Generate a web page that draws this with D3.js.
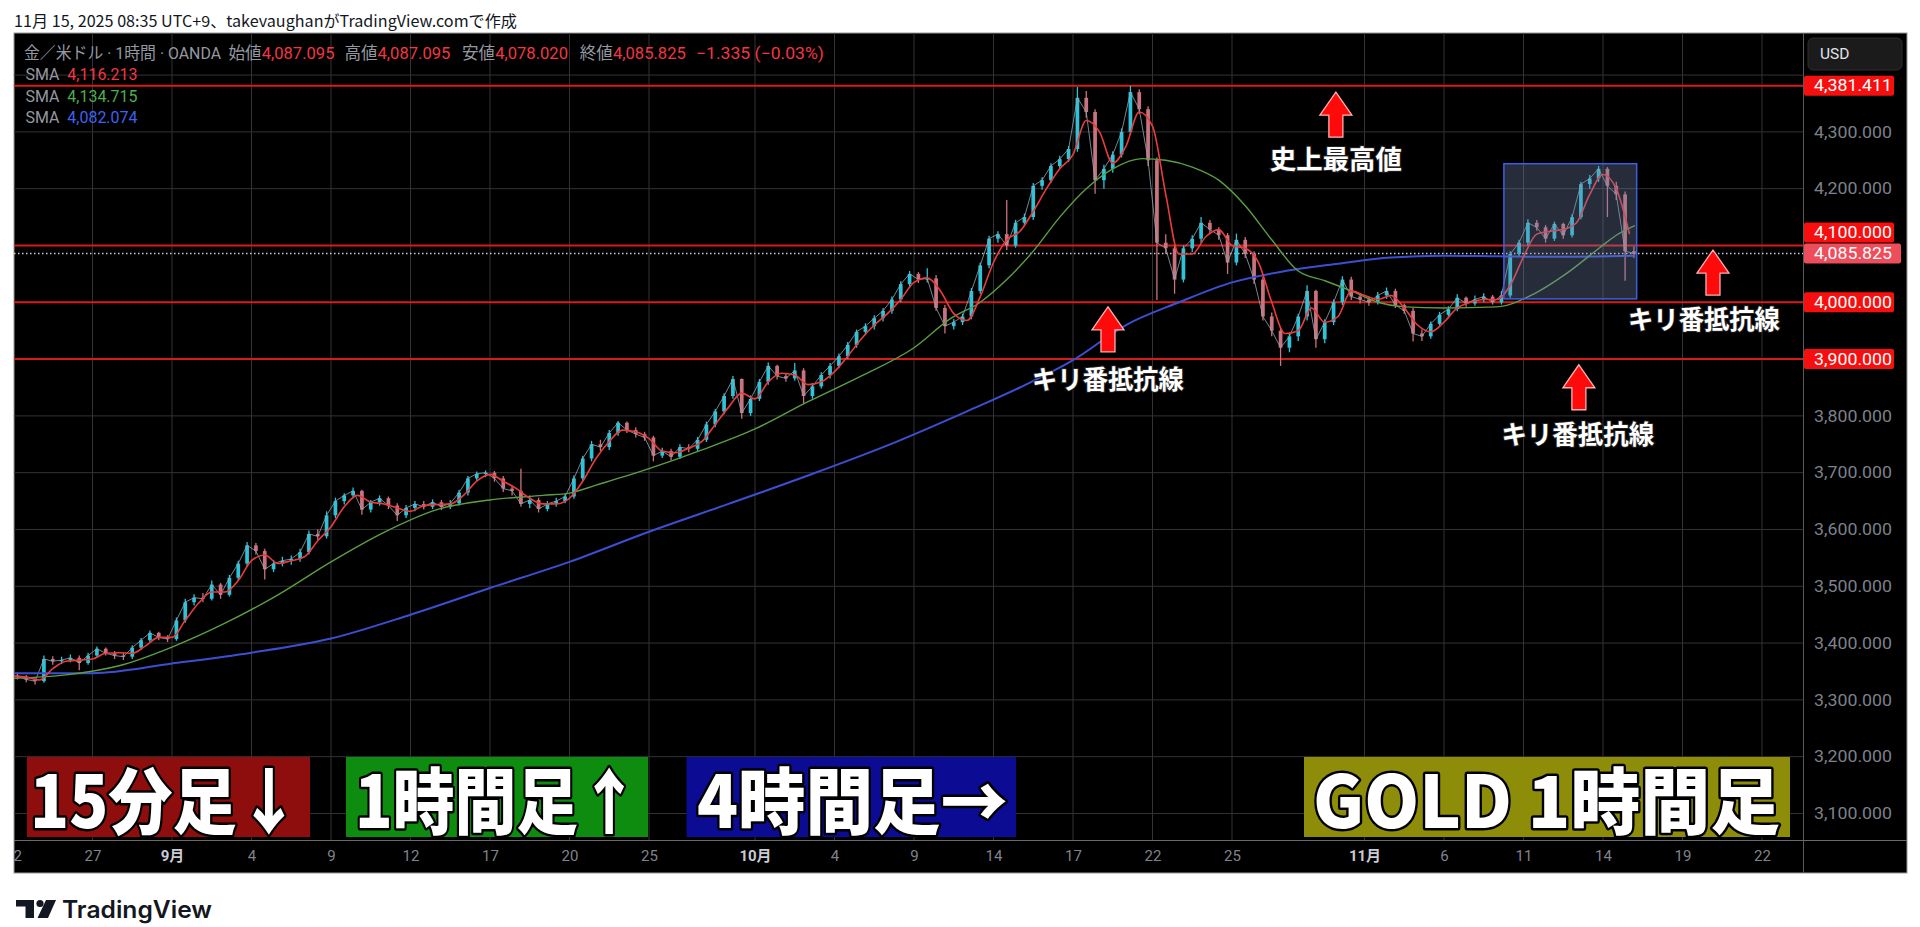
<!DOCTYPE html>
<html><head><meta charset="utf-8">
<script src="https://cdn.jsdelivr.net/npm/d3@7"></script>
<style>
body{margin:0;background:#fff;}
svg{display:block;}
</style>
</head><body>
<svg id="c" width="1920" height="927"></svg>
<script>
// ---------------- DATA ----------------
// 1/3 trading-day candles (day 0 = Aug 22)
const firstOpen = 3343;
const closes = [
3341,3336,3333, 3372,3368,3370, 3374,3365,3378, 3390,3382,3378, 3376,3392,3405,
3418,3410,3407, 3440,3472,3480, 3478,3503,3485, 3515,3540,3572, 3562,3530,3540,
3545,3548,3560, 3592,3588,3625, 3650,3660,3668, 3635,3648,3655, 3642,3625,3638,
3645,3640,3648, 3640,3646,3665, 3690,3698,3700, 3690,3672,3668, 3645,3652,3636,
3645,3650,3658, 3690,3725,3750, 3745,3770,3788, 3775,3768,3762, 3730,3738,3728,
3745,3742,3758, 3785,3808,3835, 3865,3805,3830, 3860,3888,3870, 3866,3880,3835,
3852,3872,3888, 3905,3925,3948, 3958,3972,3985, 4005,4032,4050, 4040,4042,3990,
3958,3965,3975, 4020,4065,4112, 4120,4100,4140, 4150,4205,4215, 4240,4252,4270,
4360,4335,4215, 4235,4260,4300, 4370,4340,4250, 4105,4095,4040, 4095,4112,4140,
4128,4118,4070, 4110,4085,4040, 3975,3950,3920, 3940,3975,4020, 3935,3965,4000,
4040,4010,4005, 4000,4012,4020, 3995,3985,3945, 3940,3962,3978, 3988,4008,3998,
4005,4010,4000, 4012,4085,4105, 4140,4132,4112, 4138,4118,4150, 4208,4218,4235,
4205,4190,4090, 4085.825];
const highs = [
3348,3344,3338, 3378,3377,3376, 3380,3378,3383, 3394,3392,3386, 3383,3396,3409,
3422,3420,3414, 3445,3478,3486, 3488,3510,3506, 3520,3545,3578, 3576,3566,3546,
3552,3554,3566, 3598,3600,3632, 3656,3664,3674, 3670,3652,3660, 3658,3646,3643,
3650,3650,3653, 3652,3652,3670, 3694,3702,3704, 3703,3694,3677, 3707,3660,3656,
3650,3656,3663, 3695,3730,3756, 3758,3775,3791, 3790,3780,3772, 3765,3744,3742,
3750,3750,3763, 3790,3812,3840, 3870,3866,3836, 3865,3894,3890, 3876,3893,3884,
3858,3877,3893, 3910,3930,3952, 3963,3977,3990, 4010,4037,4055, 4053,4060,4048,
3995,3970,3980, 4025,4070,4117, 4125,4180,4145, 4156,4210,4220, 4245,4258,4275,
4379,4372,4340, 4242,4266,4306, 4381,4375,4345, 4255,4120,4100, 4100,4118,4150,
4145,4132,4122, 4121,4115,4090, 4045,3982,3955, 3946,3980,4030, 4022,3970,4005,
4046,4045,4016, 4010,4018,4026, 4024,3998,3990, 3952,3966,3983, 3993,4014,4010,
4012,4016,4013, 4020,4090,4110, 4146,4145,4136, 4142,4140,4155, 4212,4224,4240,
4238,4212,4195, 4098];
const lows = [
3336,3331,3327, 3330,3362,3363, 3366,3352,3362, 3374,3378,3372, 3370,3372,3388,
3401,3405,3402, 3404,3436,3466, 3472,3475,3478, 3482,3510,3535, 3556,3512,3525,
3535,3538,3543, 3556,3582,3584, 3620,3644,3655, 3626,3630,3642, 3636,3615,3620,
3632,3635,3636, 3634,3636,3642, 3660,3686,3692, 3684,3666,3660, 3640,3638,3630,
3632,3640,3646, 3654,3685,3720, 3738,3740,3765, 3770,3762,3756, 3720,3726,3722,
3724,3736,3738, 3754,3780,3803, 3830,3795,3800, 3826,3855,3864, 3860,3862,3822,
3830,3848,3866, 3884,3900,3920, 3942,3952,3966, 3980,4000,4026, 4034,4035,3985,
3945,3952,3960, 3970,4015,4060, 4105,4092,4096, 4134,4145,4198, 4210,4235,4247,
4265,4325,4191, 4200,4228,4255, 4295,4332,4240, 4004,4085,4015, 4035,4088,4105,
4120,4110,4050, 4065,4078,4032, 3968,3940,3888, 3912,3932,3968, 3920,3928,3960,
3995,4004,3998, 3994,3996,4006, 3990,3980,3931, 3932,3936,3958, 3972,3984,3992,
3994,4000,3996, 3996,4008,4080, 4100,4126,4105, 4108,4112,4114, 4146,4200,4212,
4150,4180,4038, 4078];

// short SMA (red), one value every half trading day from day 0
const redSma = [
3342,3340,3335,3355,3368,3370,3372,3382,3383,3382,
3395,3410,3410,3440,3470,3490,3490,3510,3545,3555,
3540,3545,3552,3580,3605,3640,3660,3648,3645,3638,
3632,3642,3644,3645,3660,3685,3697,3685,3672,3655,
3645,3645,3655,3685,3725,3755,3775,3772,3760,3738,
3735,3743,3755,3785,3815,3840,3830,3860,3875,3872,
3855,3860,3878,3905,3935,3960,3980,4005,4035,4043,
4020,3980,3968,4010,4070,4110,4125,4160,4200,4235,
4260,4320,4300,4245,4275,4335,4310,4190,4085,4085,
4115,4128,4100,4095,4070,4000,3945,3950,3990,3965,
3975,4020,4012,4005,4012,3990,3960,3948,3965,3990,
4000,4005,4005,4030,4080,4120,4125,4128,4140,4190,
4225,4200,4120];
// medium SMA (green) [day, value]
const greenSma = [[0,3338],[2,3344],[4,3360],[6,3393],[8,3435],[10,3485],[12,3543],[14,3595],
[16,3635],[18,3652],[20,3660],[21,3664],[22,3678],[24,3707],[26,3740],[28,3777],[30,3825],
[32,3870],[34,3920],[35.4,3972],[36.5,4000],[37.5,4040],[38.5,4090],[39.5,4150],[40.5,4200],
[41.5,4235],[42.6,4253],[43.5,4250],[44.5,4238],[45.5,4215],[46.5,4170],[47.5,4110],
[48.5,4055],[49.5,4038],[50.5,4020],[51.5,4000],[52.5,3992],[54,3990],[56,3992],[57.4,4015],
[58.6,4050],[59.9,4097],[60.5,4118],[61.2,4135]];
// long SMA (blue) [day, value]
const blueSma = [[0,3347],[3,3347],[6,3364],[9,3383],[12,3408],[15,3450],[18,3497],[21,3543],
[24,3596],[27,3645],[30,3695],[33,3748],[36,3808],[38,3850],[40,3898],[42,3960],[44,4000],
[46,4035],[48,4055],[50,4068],[52,4079],[54,4082],[56,4081],[58,4080],[61.2,4082]];

const tickDays   = [0,3,6,9,12,15,18,21,24,28,31,34,37,40,43,46,51,54,57,60,63,66];
const tickLabels = ["22","27","9月","4","9","12","17","20","25","10月","4","9","14","17","22","25","11月","6","11","14","19","22"];
const priceGrid  = [3100,3200,3300,3400,3500,3600,3700,3800,3900,4000,4100,4200,4300,4400];
const priceLabels= [3100,3200,3300,3400,3500,3600,3700,3800,4200,4300];
const levels     = [4381.411, 4100, 4000, 3900];
const lastPrice  = 4085.825;
const ohlcNames  = ["始値","高値","安値","終値"];
const ohlcValues = [4087.095, 4087.095, 4078.020, 4085.825];
const changeText = "−1.335 (−0.03%)";
const smaValues  = [4116.213, 4134.715, 4082.074];
const boxDays    = [56.26, 61.27];
const boxPrices  = [4244, 4006];

// ---------------- DRAW ----------------
const svg = d3.select("#c");
const fmt = d3.format(",.3f");
const xS = d3.scaleLinear().domain([0, 67.5]).range([13, 1801.75]);
const yS = d3.scaleLinear().domain([3053.3, 4474.1]).range([840, 33]);
const PL = 14, PR = 1803, PT = 33, PB = 840;
const LAT = "Roboto, 'Noto Sans CJK JP', sans-serif";
const JP = "'Noto Sans CJK JP', sans-serif";

// header
svg.append("text").attr("x",14).attr("y",20).attr("dominant-baseline","central")
  .attr("font-family",JP).attr("font-size",15.5).attr("fill","#131722")
  .attr("textLength",503).attr("lengthAdjust","spacingAndGlyphs")
  .text("11月 15, 2025 08:35 UTC+9、takevaughanがTradingView.comで作成");

// frame
svg.append("rect").attr("x",14).attr("y",33).attr("width",1893).attr("height",840)
  .attr("fill","#000").attr("stroke","#9a9a9a").attr("stroke-width",1);

const defs = svg.append("defs");
defs.append("clipPath").attr("id","plot").append("rect")
  .attr("x",PL).attr("y",PT).attr("width",PR-PL).attr("height",PB-PT);
defs.append("clipPath").attr("id","taxis").append("rect")
  .attr("x",PL).attr("y",PB).attr("width",PR-PL).attr("height",33);

const plot = svg.append("g").attr("clip-path","url(#plot)");

// grid
plot.selectAll(".vg").data(tickDays).join("line")
  .attr("x1",d=>xS(d)).attr("x2",d=>xS(d)).attr("y1",PT).attr("y2",PB)
  .attr("stroke","#333").attr("stroke-width",1);
plot.selectAll(".hg").data(priceGrid).join("line")
  .attr("x1",PL).attr("x2",PR).attr("y1",d=>yS(d)).attr("y2",d=>yS(d))
  .attr("stroke","#333").attr("stroke-width",1);

// level lines
plot.selectAll(".lv").data(levels).join("line")
  .attr("x1",PL).attr("x2",PR).attr("y1",d=>yS(d)).attr("y2",d=>yS(d))
  .attr("stroke","#d81a1a").attr("stroke-width",2);
// last price dotted
plot.append("line").attr("x1",PL).attr("x2",PR).attr("y1",yS(lastPrice)).attr("y2",yS(lastPrice))
  .attr("stroke","#cfcfcf").attr("stroke-width",1.5).attr("stroke-dasharray","1.5,2.5");

// candles
const candles = closes.map((c,i)=>({t:(i+0.5)/3, o: i ? closes[i-1] : firstOpen, c, h: highs[i], l: lows[i]}));
const UP = "#2ec3d8", DN = "#c8737f";
const bw = (xS(1/3)-xS(0))*0.42;
plot.selectAll(".wk").data(candles).join("line")
  .attr("x1",d=>xS(d.t)).attr("x2",d=>xS(d.t)).attr("y1",d=>yS(d.h)).attr("y2",d=>yS(d.l))
  .attr("stroke",d=>d.c>=d.o?UP:DN).attr("stroke-width",1.3);
plot.selectAll(".bd").data(candles).join("rect")
  .attr("x",d=>xS(d.t)-bw/2).attr("width",bw)
  .attr("y",d=>yS(Math.max(d.o,d.c))).attr("height",d=>Math.max(1.2,Math.abs(yS(d.o)-yS(d.c))))
  .attr("fill",d=>d.c>=d.o?UP:DN);
// thin link between consecutive closes for a continuous trace
const link = d3.line().x(d=>xS(d.t)).y(d=>yS(d.c));
plot.append("path").attr("d",link(candles)).attr("fill","none").attr("stroke","#8fa9b3")
  .attr("stroke-width",1).attr("stroke-opacity",0.8);

// SMAs
const line = d3.line().x(d=>xS(d[0])).y(d=>yS(d[1])).curve(d3.curveMonotoneX);
plot.append("path").attr("d",line(blueSma)).attr("fill","none").attr("stroke","#3b4fd3").attr("stroke-width",2);
plot.append("path").attr("d",line(greenSma)).attr("fill","none").attr("stroke","#5c9e45").attr("stroke-width",1.4);
plot.append("path").attr("d",line(redSma.map((v,i)=>[i*0.5,v]))).attr("fill","none").attr("stroke","#ec3b3b").attr("stroke-width",1.6);

// highlight box
plot.append("rect").attr("x",xS(boxDays[0])).attr("width",xS(boxDays[1])-xS(boxDays[0]))
  .attr("y",yS(boxPrices[0])).attr("height",yS(boxPrices[1])-yS(boxPrices[0]))
  .attr("fill","#7486b0").attr("fill-opacity",0.33).attr("stroke","#3d5fe4").attr("stroke-width",1.5);

// annotations (arrow tip in data coords)
const notes = [
  {t:49.92, p:4370, text:"史上最高値", dx:0, dy:65.5, w:132},
  {t:41.32, p:3992, text:"キリ番抵抗線", dx:0, dy:71, w:152},
  {t:64.15, p:4092, text:"キリ番抵抗線", dx:-9, dy:67, w:152},
  {t:59.09, p:3890, text:"キリ番抵抗線", dx:-1, dy:68, w:153}
];
notes.forEach(n=>{
  const cx = xS(n.t), ty = yS(n.p);
  svg.append("path")
    .attr("d",`M${cx},${ty} L${cx+16},${ty+23} L${cx+7},${ty+23} L${cx+7},${ty+45} L${cx-7},${ty+45} L${cx-7},${ty+23} L${cx-16},${ty+23} Z`)
    .attr("fill","#ff0a0a").attr("stroke","#ffb0b0").attr("stroke-width",1.3);
  svg.append("text").attr("x",cx+n.dx).attr("y",ty+n.dy).attr("text-anchor","middle")
    .attr("dominant-baseline","central").attr("font-family",JP).attr("font-weight",700)
    .attr("font-size",26).attr("fill","#fff").attr("stroke","#222").attr("stroke-width",2)
    .attr("paint-order","stroke").attr("textLength",n.w).attr("lengthAdjust","spacingAndGlyphs")
    .text(n.text);
});

// bottom timeframe labels
const tags = [
  {x:27, w:283, fill:"#8e0d0d", text:"15分足↓", tx:30, tw:271},
  {x:346, w:302, fill:"#0e8c10", text:"1時間足↑", tx:355, tw:285},
  {x:686.5, w:329.5, fill:"#0b0b94", text:"4時間足→", tx:697, tw:311},
  {x:1304, w:486, fill:"#8d8d09", text:"GOLD 1時間足", tx:1313, tw:467}
];
tags.forEach(g=>{
  svg.append("rect").attr("x",g.x).attr("y",757).attr("width",g.w).attr("height",80).attr("fill",g.fill);
  svg.append("text").attr("x",g.tx).attr("y",828).attr("font-family",JP).attr("font-weight",900)
    .attr("font-size",72).attr("fill","#fff").attr("stroke","#000").attr("stroke-width",5)
    .attr("stroke-linejoin","round").attr("paint-order","stroke")
    .attr("textLength",g.tw).attr("lengthAdjust","spacingAndGlyphs").text(g.text);
});

// legend
const lg = svg.append("g").attr("font-family",LAT).attr("font-size",16.5);
lg.append("text").attr("x",24).attr("y",53).attr("dominant-baseline","central").attr("fill","#9598a1")
  .attr("textLength",197).attr("lengthAdjust","spacingAndGlyphs").text("金／米ドル · 1時間 · OANDA");
const nameX = [228.5, 344.4, 462, 579.8];
ohlcNames.forEach((n,i)=>{
  const t = lg.append("text").attr("x",nameX[i]).attr("y",53).attr("dominant-baseline","central")
    .attr("textLength",106).attr("lengthAdjust","spacingAndGlyphs");
  t.append("tspan").attr("fill","#9598a1").text(n);
  t.append("tspan").attr("fill","#f23645").text(fmt(ohlcValues[i]));
});
lg.append("text").attr("x",696).attr("y",53).attr("dominant-baseline","central").attr("fill","#f23645")
  .attr("textLength",128).attr("lengthAdjust","spacingAndGlyphs").text(changeText);
const smaCol = ["#f23645","#4caf50","#3f62f0"], smaY = [74,95.5,116.5];
smaValues.forEach((v,i)=>{
  const t = lg.append("text").attr("x",25.5).attr("y",smaY[i]).attr("dominant-baseline","central")
    .attr("textLength",112).attr("lengthAdjust","spacingAndGlyphs");
  t.append("tspan").attr("fill","#9598a1").text("SMA\u00a0\u00a0");
  t.append("tspan").attr("fill",smaCol[i]).text(fmt(v));
});

// price axis
svg.append("line").attr("x1",PR+0.5).attr("x2",PR+0.5).attr("y1",PT).attr("y2",873).attr("stroke","#5a5a5a");
const ya = svg.append("g").attr("transform",`translate(${PR},0)`)
  .call(d3.axisRight(yS).tickValues(priceLabels).tickFormat(fmt).tickSize(0).tickPadding(11));
ya.select(".domain").remove();
ya.selectAll("text").attr("font-family",LAT).attr("font-size",16.5).attr("fill","#7d808a")
  .attr("textLength",78).attr("lengthAdjust","spacingAndGlyphs");

// level labels
const lvLab = levels.map(v=>({v, y: yS(v), col:"#f70f0f", w: 90}));
lvLab.push({v:lastPrice, y:yS(lastPrice), col:"#ee4d5c", w: 97});
// shift 4100 label above last-price label to avoid overlap
lvLab.forEach(d=>{ if (d.v===4100) d.y = yS(lastPrice) - 21; });
lvLab.forEach(d=>{
  svg.append("rect").attr("x",PR+1).attr("y",d.y-10).attr("width",d.w).attr("height",20).attr("rx",2).attr("fill",d.col);
  svg.append("text").attr("x",1814).attr("y",d.y).attr("dominant-baseline","central")
    .attr("font-family",LAT).attr("font-size",16.5).attr("fill","#fff")
    .attr("textLength",78).attr("lengthAdjust","spacingAndGlyphs").text(fmt(d.v));
});

// USD button
svg.append("rect").attr("x",1808).attr("y",38).attr("width",94).attr("height",32).attr("rx",5)
  .attr("fill","#1b1b1b").attr("stroke","#2e2e2e");
svg.append("text").attr("x",1820).attr("y",54).attr("dominant-baseline","central")
  .attr("font-family",LAT).attr("font-size",15.5).attr("fill","#e0e3eb").text("USD");

// time axis
svg.append("line").attr("x1",14).attr("x2",1907).attr("y1",PB+0.5).attr("y2",PB+0.5).attr("stroke","#6a6a6a");
const xaWrap = svg.append("g").attr("clip-path","url(#taxis)");
const xa = xaWrap.append("g").attr("transform",`translate(0,${PB})`)
  .call(d3.axisBottom(xS).tickValues(tickDays).tickFormat((d,i)=>tickLabels[i]).tickSize(0).tickPadding(10));
xa.select(".domain").remove();
xa.selectAll("text").attr("font-family",LAT).attr("font-size",15)
  .attr("fill",(d,i)=>tickLabels[i].includes("月")?"#c9ccd3":"#80838d")
  .attr("font-weight",(d,i)=>tickLabels[i].includes("月")?700:400);

// TradingView logo
const logo = svg.append("g").attr("fill","#131722");
logo.append("path").attr("d","M16,900 H34 V918 H25.5 V906.5 H16 Z");
logo.append("circle").attr("cx",40).attr("cy",903.5).attr("r",3.6);
logo.append("path").attr("d","M46,900 H56 L48,918 H37.5 Z");
logo.append("text").attr("x",62).attr("y",918).attr("font-family","Inter, Roboto, sans-serif")
  .attr("font-weight",600).attr("font-size",24).attr("textLength",150).attr("lengthAdjust","spacingAndGlyphs")
  .text("TradingView");
</script>
</body></html>
